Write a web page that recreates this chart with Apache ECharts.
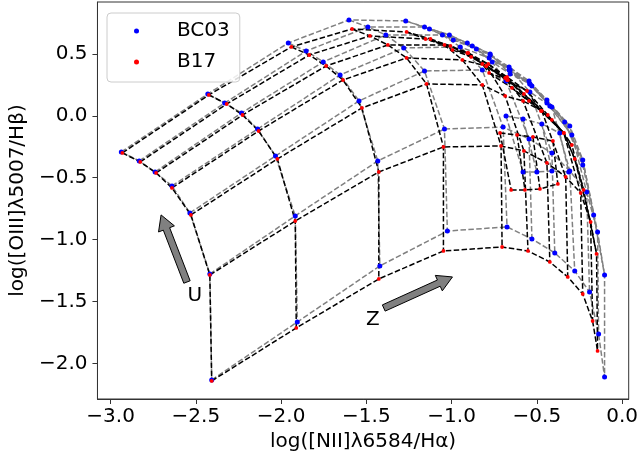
<!DOCTYPE html>
<html><head><meta charset="utf-8">
<script src="https://cdn.jsdelivr.net/npm/echarts@6/dist/echarts.min.js"></script>
<style>html,body{margin:0;padding:0;background:#fff}#c{width:641px;height:462px}</style>
</head><body><div id="c"></div>
<script>
// ---- tick labels ----
const xTicks = [-3.0, -2.5, -2.0, -1.5, -1.0, -0.5, 0.0];
const yTicks = [-2.0, -1.5, -1.0, -0.5, 0.0, 0.5];

// ---- BC03 grid: one array per ionisation parameter (rows), 11 metallicities each ----
const bc03_U0 = [[-2.937,-0.292],[-2.430,0.176],[-1.958,0.588],[-1.602,0.774],[-1.269,0.766],[-1.130,0.701],[-0.990,0.612],[-0.855,0.540],[-0.774,0.491],[-0.663,0.370],[-0.529,0.241]];
const bc03_U1 = [[-2.832,-0.365],[-2.331,0.103],[-1.853,0.523],[-1.491,0.717],[-1.159,0.717],[-1.013,0.653],[-0.879,0.564],[-0.762,0.435],[-0.663,0.394],[-0.541,0.257],[-0.424,0.079]];
const bc03_U2 = [[-2.739,-0.454],[-2.232,0.023],[-1.753,0.435],[-1.386,0.653],[-1.054,0.653],[-0.908,0.588],[-0.774,0.499],[-0.657,0.338],[-0.546,0.281],[-0.441,0.103],[-0.295,-0.155]];
const bc03_U3 = [[-2.640,-0.567],[-2.138,-0.107],[-1.654,0.330],[-1.281,0.548],[-0.949,0.556],[-0.780,0.467],[-0.657,0.370],[-0.541,0.257],[-0.441,0.128],[-0.337,-0.050],[-0.231,-0.398]];
const bc03_U4 = [[-2.535,-0.785],[-2.033,-0.325],[-1.543,0.120],[-1.159,0.362],[-0.820,0.370],[-0.681,0.281],[-0.541,0.192],[-0.412,0.071],[-0.307,-0.082],[-0.231,-0.357],[-0.167,-0.801]];
const bc03_U5 = [[-2.418,-1.278],[-1.917,-0.809],[-1.433,-0.365],[-1.042,-0.107],[-0.698,-0.091],[-0.546,-0.187],[-0.412,-0.301],[-0.307,-0.446],[-0.208,-0.616],[-0.144,-0.939],[-0.103,-1.286]];
const bc03_U6 = [[-2.407,-2.134],[-1.905,-1.666],[-1.421,-1.213],[-1.025,-0.931],[-0.675,-0.898],[-0.529,-0.995],[-0.395,-1.108],[-0.278,-1.254],[-0.191,-1.423],[-0.138,-1.763],[-0.103,-2.110]];
const bc03_extraA = [[-0.681,-0.002],[-0.581,-0.026],[-0.471,-0.066],[-0.366,-0.139]];
const bc03_extraB = [[-0.581,-0.454],[-0.500,-0.454],[-0.412,-0.446],[-0.313,-0.454]];

// ---- B17 grid ----
const b17_U0 = [[-2.931,-0.300],[-2.424,0.168],[-1.940,0.556],[-1.584,0.701],[-1.264,0.677],[-1.124,0.620],[-0.995,0.532],[-0.908,0.507],[-0.820,0.418],[-0.780,0.346],[-0.669,0.289]];
const b17_U1 = [[-2.826,-0.373],[-2.319,0.095],[-1.835,0.491],[-1.479,0.645],[-1.153,0.620],[-1.007,0.564],[-0.885,0.475],[-0.797,0.402],[-0.675,0.289],[-0.646,0.225],[-0.546,0.120]];
const b17_U2 = [[-2.733,-0.462],[-2.226,0.006],[-1.736,0.402],[-1.374,0.572],[-1.042,0.572],[-0.902,0.507],[-0.785,0.418],[-0.675,0.313],[-0.558,0.200],[-0.476,0.039],[-0.412,-0.034]];
const b17_U3 = [[-2.640,-0.583],[-2.132,-0.123],[-1.637,0.289],[-1.264,0.467],[-0.937,0.451],[-0.797,0.402],[-0.686,0.305],[-0.576,0.176],[-0.436,0.006],[-0.342,-0.139],[-0.295,-0.236]];
const b17_U4 = [[-2.529,-0.801],[-2.022,-0.349],[-1.526,0.063],[-1.147,0.257],[-0.820,0.249],[-0.686,0.160],[-0.581,0.120],[-0.471,0.039],[-0.342,-0.139],[-0.278,-0.349],[-0.226,-0.599]];
const b17_U5 = [[-2.418,-1.286],[-1.917,-0.850],[-1.427,-0.454],[-1.048,-0.252],[-0.710,-0.244],[-0.576,-0.284],[-0.441,-0.381],[-0.331,-0.494],[-0.243,-0.624],[-0.185,-0.858],[-0.150,-1.116]];
const b17_U6 = [[-2.407,-2.142],[-1.911,-1.714],[-1.427,-1.318],[-1.048,-1.092],[-0.704,-1.060],[-0.552,-1.092],[-0.424,-1.181],[-0.319,-1.302],[-0.231,-1.440],[-0.173,-1.658],[-0.144,-1.900]];
const b17_extraA = [[-0.716,-0.139],[-0.616,-0.155],[-0.523,-0.171],[-0.406,-0.204]];
const b17_extraB = [[-0.651,-0.599],[-0.570,-0.599],[-0.482,-0.591],[-0.377,-0.551]];

// ---- annotation arrows (data coordinates) ----
const arrowU = {tail: [-2.552, -1.343], tip: [-2.704, -0.801], label: 'U', labelAt: [-2.506, -1.456]};
const arrowZ = {tail: [-1.398, -1.553], tip: [-0.995, -1.302], label: 'Z', labelAt: [-1.462, -1.649]};

const FONT = 'DejaVu Sans';
function fmt(v) { return (v < -1e-9 ? '\u2212' : '') + Math.abs(v).toFixed(1); }

const models = [
  {name: 'BC03', rows: [bc03_U0, bc03_U1, bc03_U2, bc03_U3, bc03_U4, bc03_U5, bc03_U6], exA: bc03_extraA, exB: bc03_extraB,
   line: '#808080', point: '#0000ff', size: 5, zLine: 2, zPt: 5},
  {name: 'B17', rows: [b17_U0, b17_U1, b17_U2, b17_U3, b17_U4, b17_U5, b17_U6], exA: b17_extraA, exB: b17_extraB,
   line: '#000000', point: '#ff0000', size: 3.8, zLine: 3, zPt: 6}
];

function lineSeries(name, pts, color, z) {
  return {type: 'line', name: name, data: pts, symbol: 'none', showSymbol: false, silent: true,
    animation: false, lineStyle: {color: color, width: 1.5, type: [5.5, 2.4]}, z: z};
}

const series = [];
models.forEach(m => {
  const gname = m.name + ' grid';
  m.rows.forEach(r => series.push(lineSeries(gname, r, m.line, m.zLine)));
  const nCol = m.rows[0].length;
  for (let j = 0; j < nCol; j++) series.push(lineSeries(gname, m.rows.map(r => r[j]), m.line, m.zLine));
  series.push(lineSeries(gname, m.exA, m.line, m.zLine));
  series.push(lineSeries(gname, m.exB, m.line, m.zLine));
  for (let k = 0; k < m.exA.length; k++) series.push(lineSeries(gname, [m.exA[k], m.exB[k]], m.line, m.zLine));
});
models.forEach(m => {
  const pts = [].concat(...m.rows, m.exA, m.exB);
  series.push({type: 'scatter', name: m.name, data: pts, symbol: 'circle', symbolSize: m.size,
    itemStyle: {color: m.point, opacity: 1}, animation: false, z: m.zPt});
});

const option = {
  backgroundColor: '#ffffff',
  animation: false,
  grid: {left: 95, right: 12, top: 2, bottom: 63, show: true, borderColor: '#333', borderWidth: 1, backgroundColor: 'transparent'},
  xAxis: {
    type: 'value', min: -3.077, max: 0.0385,
    splitLine: {show: false},
    axisLine: {show: true, onZero: false, lineStyle: {color: '#333', width: 1}},
    axisTick: {show: true, length: 5, customValues: xTicks, lineStyle: {color: '#333'}},
    axisLabel: {customValues: xTicks, formatter: fmt, fontFamily: FONT, fontSize: 20, color: '#000', margin: 8},
    name: 'log([NII]\u03bb6584/H\u03b1)', nameLocation: 'middle', nameGap: 32,
    nameTextStyle: {fontFamily: FONT, fontSize: 20, color: '#000'}
  },
  yAxis: {
    type: 'value', min: -2.288, max: 0.919,
    splitLine: {show: false},
    axisLine: {show: true, onZero: false, lineStyle: {color: '#333', width: 1}},
    axisTick: {show: true, length: 5, customValues: yTicks, lineStyle: {color: '#333'}},
    axisLabel: {customValues: yTicks, formatter: fmt, fontFamily: FONT, fontSize: 20, color: '#000', margin: 10},
    name: 'log([OIII]\u03bb5007/H\u03b2)', nameLocation: 'middle', nameGap: 57, nameRotate: 90,
    nameTextStyle: {fontFamily: FONT, fontSize: 20, color: '#000'}
  },
  legend: {
    data: ['BC03', 'B17'], orient: 'vertical', left: 107, top: 13,
    padding: [7, 10, 9, 27], itemWidth: 5, itemHeight: 5, itemGap: 9, icon: 'circle',
    formatter: '{t|{name}}',
    backgroundColor: 'rgba(255,255,255,0.85)', borderColor: '#cccccc', borderWidth: 1, borderRadius: 4,
    textStyle: {fontFamily: FONT, fontSize: 20, color: '#000', lineHeight: 22,
      rich: {t: {fontFamily: FONT, fontSize: 20, color: '#000', lineHeight: 22, padding: [0, 0, 0, 33]}}}
  },
  series: series
};

const chart = echarts.init(document.getElementById('c'), null, {renderer: 'canvas'});
chart.setOption(option);

function arrowGraphic(a) {
  const T = chart.convertToPixel({gridIndex: 0}, a.tail);
  const P = chart.convertToPixel({gridIndex: 0}, a.tip);
  const dx = P[0] - T[0], dy = P[1] - T[1];
  const L = Math.sqrt(dx * dx + dy * dy);
  const ux = dx / L, uy = dy / L, nx = -uy, ny = ux;
  const sw = 3.4, hw = 8.5, hl = 15;
  const S = [P[0] - ux * hl, P[1] - uy * hl];
  const pts = [
    [T[0] + nx * sw, T[1] + ny * sw], [S[0] + nx * sw, S[1] + ny * sw], [S[0] + nx * hw, S[1] + ny * hw],
    P, [S[0] - nx * hw, S[1] - ny * hw], [S[0] - nx * sw, S[1] - ny * sw], [T[0] - nx * sw, T[1] - ny * sw]
  ];
  const lp = chart.convertToPixel({gridIndex: 0}, a.labelAt);
  return [
    {type: 'polygon', shape: {points: pts}, style: {fill: '#808080', stroke: '#000', lineWidth: 1}, z: 20},
    {type: 'text', x: lp[0], y: lp[1], style: {text: a.label, font: '20px "DejaVu Sans"', fill: '#000', align: 'center', verticalAlign: 'middle'}, z: 20}
  ];
}
chart.setOption({graphic: [].concat(arrowGraphic(arrowU), arrowGraphic(arrowZ))});
</script></body></html>
